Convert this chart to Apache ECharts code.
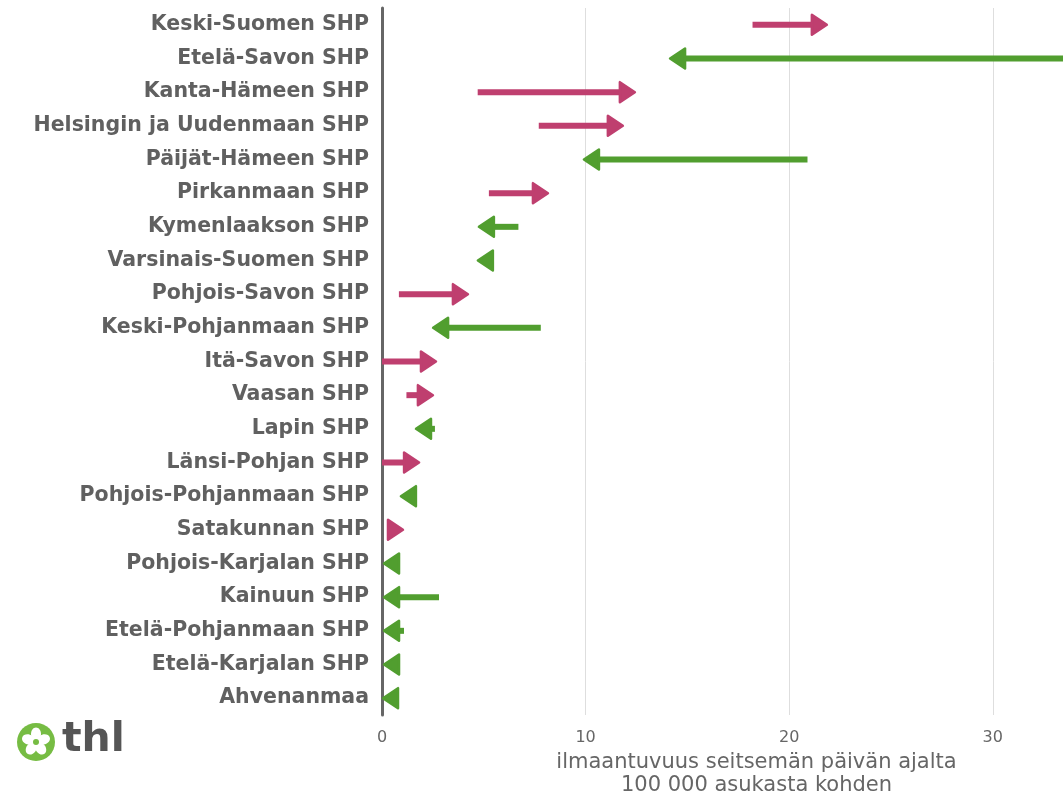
<!DOCTYPE html>
<html>
<head>
<meta charset="utf-8">
<script src="https://cdn.jsdelivr.net/npm/echarts@6/dist/echarts.min.js"></script>
<style>
html,body{margin:0;padding:0;background:#fff;width:1063px;height:796px;overflow:hidden;}
#chart{width:1063px;height:796px;display:block;}
</style>
</head>
<body>
<div id="chart"></div>
<script>
const categories = [
  "Keski-Suomen SHP","Etelä-Savon SHP","Kanta-Hämeen SHP","Helsingin ja Uudenmaan SHP",
  "Päijät-Hämeen SHP","Pirkanmaan SHP","Kymenlaakson SHP","Varsinais-Suomen SHP",
  "Pohjois-Savon SHP","Keski-Pohjanmaan SHP","Itä-Savon SHP","Vaasan SHP","Lapin SHP",
  "Länsi-Pohjan SHP","Pohjois-Pohjanmaan SHP","Satakunnan SHP","Pohjois-Karjalan SHP",
  "Kainuun SHP","Etelä-Pohjanmaan SHP","Etelä-Karjalan SHP","Ahvenanmaa"
];
const startValues = [18.2, 33.6, 4.7, 7.7, 20.9, 5.25, 6.7, 5.2, 0.83, 7.8, 0.0, 1.2, 2.6, 0.0, 1.5, 0.4, 0.6, 2.8, 1.08, 0.6, 0.5];
const endValues   = [21.9, 14.1, 12.47, 11.88, 9.87, 8.2, 4.71, 4.66, 4.27, 2.46, 2.7, 2.55, 1.62, 1.87, 0.88, 1.08, 0.05, 0.05, 0.05, 0.05, 0.0];
const xTicks = [0, 10, 20, 30];

const PINK = '#bf3f6f', GREEN = '#519e2f';
const FONT = '"DejaVu Sans", Verdana, sans-serif';
const data = categories.map((c, i) => [i, startValues[i], endValues[i]]);

const chart = echarts.init(document.getElementById('chart'), null, {renderer: 'canvas', width: 1063, height: 796});
chart.setOption({
  animation: false,
  backgroundColor: '#ffffff',
  grid: {left: 382, right: 0, top: 8, height: 707, containLabel: false, outerBoundsMode: 'none'},
  xAxis: {
    type: 'value', min: 0, max: 33.45, interval: 10,
    name: 'ilmaantuvuus seitsemän päivän ajalta\n100 000 asukasta kohden',
    nameLocation: 'middle', nameGap: 36,
    nameTextStyle: {fontFamily: FONT, fontSize: 21, color: '#666666', lineHeight: 23, padding: [0, 0, 0, 68]},
    axisLine: {show: false}, axisTick: {show: false},
    axisLabel: {fontFamily: FONT, fontSize: 16, color: '#666666', margin: 15,
      showMaxLabel: false,
      formatter: v => xTicks.includes(v) ? String(v) : ''},
    splitLine: {show: true, lineStyle: {color: '#dedede', width: 1}}
  },
  yAxis: {
    type: 'category', data: categories, inverse: true,
    axisLine: {show: true, lineStyle: {color: '#666666', width: 3}},
    axisTick: {show: false},
    axisLabel: {fontFamily: FONT, fontWeight: 'bold', fontSize: 20.5, color: '#606060', margin: 13},
    splitLine: {show: false}
  },
  graphic: [
    {type: 'circle', shape: {cx: 36, cy: 742, r: 19}, style: {fill: '#76bc43'}},
    ...[0,1,2,3,4].map(k => {
      const a = -Math.PI/2 + k * 2 * Math.PI / 5;
      return {type: 'ellipse', shape: {cx: 36 + Math.cos(a) * 8, cy: 742 + Math.sin(a) * 8, rx: 5, ry: 6.5},
        rotation: -(a + Math.PI/2), originX: 36 + Math.cos(a) * 8, originY: 742 + Math.sin(a) * 8,
        style: {fill: '#ffffff'}};
    }),
    {type: 'circle', shape: {cx: 36, cy: 742, r: 3}, style: {fill: '#76bc43'}},
    {type: 'text', left: 62, top: 720, style: {text: 'thl', fontFamily: FONT, fontWeight: 'bold', fontSize: 41, fill: '#555555'}}
  ],
  series: [{
    type: 'custom',
    clip: false,
    data: data,
    encode: {x: [1, 2], y: 0},
    renderItem: function (params, api) {
      const cat = api.value(0), s = api.value(1), e = api.value(2);
      const p0 = api.coord([s, cat]);
      const p1 = api.coord([e, cat]);
      const dir = e >= s ? 1 : -1;
      const color = dir > 0 ? PINK : GREEN;
      const headLen = 16, half = 10;
      const y = p1[1];
      const base = p1[0] - dir * headLen;
      const children = [];
      if ((base - p0[0]) * dir > 0) {
        children.push({type: 'line', shape: {x1: p0[0], y1: y, x2: base + dir * 2, y2: y},
          style: {stroke: color, lineWidth: 6, lineCap: 'butt'}});
      }
      children.push({type: 'polygon', shape: {points: [[p1[0] - dir * 1, y], [base, y - half], [base, y + half]]},
        style: {fill: color, stroke: color, lineWidth: 2.5, lineJoin: 'round'}});
      return {type: 'group', children: children};
    }
  }]
});
</script>
</body>
</html>
